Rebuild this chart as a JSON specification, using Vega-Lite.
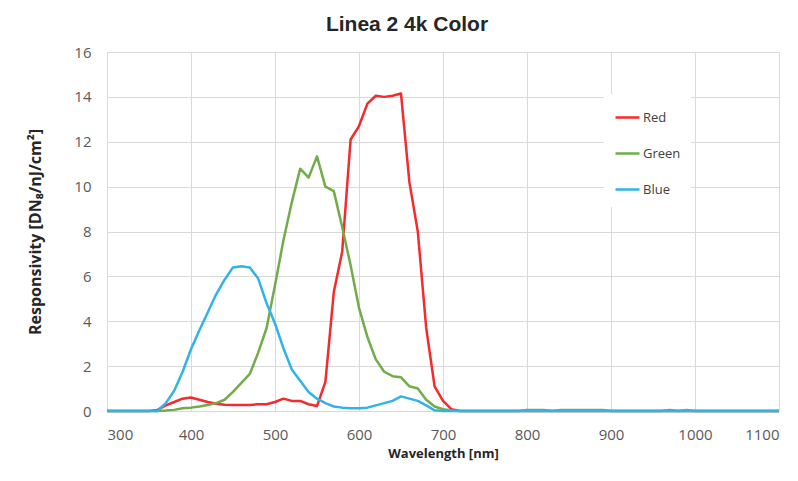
{
  "$schema": "https://vega.github.io/schema/vega-lite/v6.json",
  "width": 672,
  "height": 359,
  "autosize": {"type": "none"},
  "padding": {"left": 107, "top": 52, "right": 19, "bottom": 70},
  "background": "white",
  "title": {
    "text": "Linea 2 4k Color",
    "font": "Liberation Sans",
    "fontSize": 21,
    "fontWeight": "bold",
    "color": "#262626",
    "anchor": "middle",
    "dx": -36,
    "offset": 10
  },
  "data": {
    "values": [
      {"w":300,"s":"Red","v":0},{"w":350,"s":"Red","v":0},{"w":360,"s":"Red","v":0.05},{"w":370,"s":"Red","v":0.25},{"w":380,"s":"Red","v":0.4},{"w":390,"s":"Red","v":0.55},{"w":400,"s":"Red","v":0.6},{"w":410,"s":"Red","v":0.5},{"w":420,"s":"Red","v":0.4},{"w":430,"s":"Red","v":0.32},{"w":440,"s":"Red","v":0.28},{"w":450,"s":"Red","v":0.27},{"w":460,"s":"Red","v":0.27},{"w":470,"s":"Red","v":0.27},{"w":480,"s":"Red","v":0.3},{"w":490,"s":"Red","v":0.3},{"w":500,"s":"Red","v":0.4},{"w":510,"s":"Red","v":0.55},{"w":520,"s":"Red","v":0.45},{"w":530,"s":"Red","v":0.45},{"w":540,"s":"Red","v":0.3},{"w":550,"s":"Red","v":0.22},{"w":560,"s":"Red","v":1.3},{"w":570,"s":"Red","v":5.3},{"w":580,"s":"Red","v":7.1},{"w":590,"s":"Red","v":12.1},{"w":600,"s":"Red","v":12.7},{"w":610,"s":"Red","v":13.7},{"w":620,"s":"Red","v":14.05},{"w":630,"s":"Red","v":14.0},{"w":640,"s":"Red","v":14.05},{"w":650,"s":"Red","v":14.15},{"w":660,"s":"Red","v":10.2},{"w":670,"s":"Red","v":8.0},{"w":680,"s":"Red","v":3.7},{"w":690,"s":"Red","v":1.1},{"w":700,"s":"Red","v":0.45},{"w":710,"s":"Red","v":0.08},{"w":720,"s":"Red","v":0},{"w":1100,"s":"Red","v":0},
      {"w":300,"s":"Green","v":0},{"w":360,"s":"Green","v":0},{"w":370,"s":"Green","v":0.02},{"w":380,"s":"Green","v":0.05},{"w":390,"s":"Green","v":0.12},{"w":400,"s":"Green","v":0.15},{"w":410,"s":"Green","v":0.2},{"w":420,"s":"Green","v":0.27},{"w":430,"s":"Green","v":0.35},{"w":440,"s":"Green","v":0.5},{"w":450,"s":"Green","v":0.85},{"w":460,"s":"Green","v":1.25},{"w":470,"s":"Green","v":1.65},{"w":480,"s":"Green","v":2.6},{"w":490,"s":"Green","v":3.7},{"w":500,"s":"Green","v":5.6},{"w":510,"s":"Green","v":7.6},{"w":520,"s":"Green","v":9.3},{"w":530,"s":"Green","v":10.8},{"w":540,"s":"Green","v":10.4},{"w":550,"s":"Green","v":11.35},{"w":560,"s":"Green","v":10.0},{"w":570,"s":"Green","v":9.8},{"w":580,"s":"Green","v":8.2},{"w":590,"s":"Green","v":6.5},{"w":600,"s":"Green","v":4.6},{"w":610,"s":"Green","v":3.3},{"w":620,"s":"Green","v":2.3},{"w":630,"s":"Green","v":1.75},{"w":640,"s":"Green","v":1.55},{"w":650,"s":"Green","v":1.5},{"w":660,"s":"Green","v":1.1},{"w":670,"s":"Green","v":1.0},{"w":680,"s":"Green","v":0.5},{"w":690,"s":"Green","v":0.2},{"w":700,"s":"Green","v":0.08},{"w":710,"s":"Green","v":0.02},{"w":720,"s":"Green","v":0},{"w":790,"s":"Green","v":0},{"w":800,"s":"Green","v":0.05},{"w":820,"s":"Green","v":0.05},{"w":830,"s":"Green","v":0},{"w":840,"s":"Green","v":0.05},{"w":890,"s":"Green","v":0.05},{"w":900,"s":"Green","v":0},{"w":960,"s":"Green","v":0},{"w":970,"s":"Green","v":0.05},{"w":980,"s":"Green","v":0},{"w":990,"s":"Green","v":0.05},{"w":1000,"s":"Green","v":0},{"w":1100,"s":"Green","v":0},
      {"w":300,"s":"Blue","v":0},{"w":360,"s":"Blue","v":0},{"w":370,"s":"Blue","v":0.35},{"w":380,"s":"Blue","v":0.9},{"w":390,"s":"Blue","v":1.75},{"w":400,"s":"Blue","v":2.75},{"w":410,"s":"Blue","v":3.6},{"w":420,"s":"Blue","v":4.4},{"w":430,"s":"Blue","v":5.2},{"w":440,"s":"Blue","v":5.85},{"w":450,"s":"Blue","v":6.4},{"w":460,"s":"Blue","v":6.45},{"w":470,"s":"Blue","v":6.4},{"w":480,"s":"Blue","v":5.9},{"w":490,"s":"Blue","v":4.8},{"w":500,"s":"Blue","v":3.9},{"w":510,"s":"Blue","v":2.8},{"w":520,"s":"Blue","v":1.85},{"w":530,"s":"Blue","v":1.35},{"w":540,"s":"Blue","v":0.85},{"w":550,"s":"Blue","v":0.55},{"w":560,"s":"Blue","v":0.35},{"w":570,"s":"Blue","v":0.2},{"w":580,"s":"Blue","v":0.15},{"w":590,"s":"Blue","v":0.12},{"w":600,"s":"Blue","v":0.12},{"w":610,"s":"Blue","v":0.15},{"w":620,"s":"Blue","v":0.25},{"w":630,"s":"Blue","v":0.35},{"w":640,"s":"Blue","v":0.45},{"w":650,"s":"Blue","v":0.65},{"w":660,"s":"Blue","v":0.55},{"w":670,"s":"Blue","v":0.45},{"w":680,"s":"Blue","v":0.25},{"w":690,"s":"Blue","v":0.03},{"w":700,"s":"Blue","v":0},{"w":1100,"s":"Blue","v":0}
    ]
  },
  "mark": {"type": "line", "strokeWidth": 2.5, "strokeJoin": "round"},
  "encoding": {
    "x": {
      "field": "w",
      "type": "quantitative",
      "scale": {"domain": [300, 1100], "nice": false, "zero": false},
      "axis": {
        "title": "Wavelength [nm]",
        "values": [300, 400, 500, 600, 700, 800, 900, 1000, 1100],
        "format": "d",
        "labelPadding": 16
      }
    },
    "y": {
      "field": "v",
      "type": "quantitative",
      "scale": {"domain": [0, 16], "nice": false},
      "axis": {
        "title": "Responsivity [DN₈/nJ/cm²]",
        "titleFontSize": 16,
        "values": [0, 2, 4, 6, 8, 10, 12, 14, 16],
        "labelPadding": 16,
        "titlePadding": 30
      }
    },
    "color": {
      "field": "s",
      "type": "nominal",
      "sort": ["Red", "Green", "Blue"],
      "scale": {"domain": ["Red", "Green", "Blue"], "range": ["#F52A2D", "#72AC4A", "#31B3E6"]},
      "legend": {
        "title": null,
        "orient": "none",
        "legendX": 497,
        "legendY": 42,
        "fillColor": "white",
        "padding": 10,
        "symbolType": "stroke",
        "symbolSize": 576,
        "symbolStrokeWidth": 2.5,
        "rowPadding": 15,
        "labelOffset": 2,
        "labelFont": "Open Sans",
        "labelFontSize": 13,
        "labelColor": "#404040"
      }
    }
  },
  "config": {
    "view": {"stroke": null},
    "axis": {
      "grid": true,
      "gridColor": "#d9d9d9",
      "gridWidth": 1,
      "domain": false,
      "ticks": false,
      "labelFont": "Open Sans",
      "labelFontSize": 15,
      "labelColor": "#595959",
      "titleFont": "Open Sans",
      "titleFontSize": 13,
      "titleFontWeight": "bold",
      "titleColor": "#262626"
    },
    "axisX": {"titlePadding": 5}
  }
}
